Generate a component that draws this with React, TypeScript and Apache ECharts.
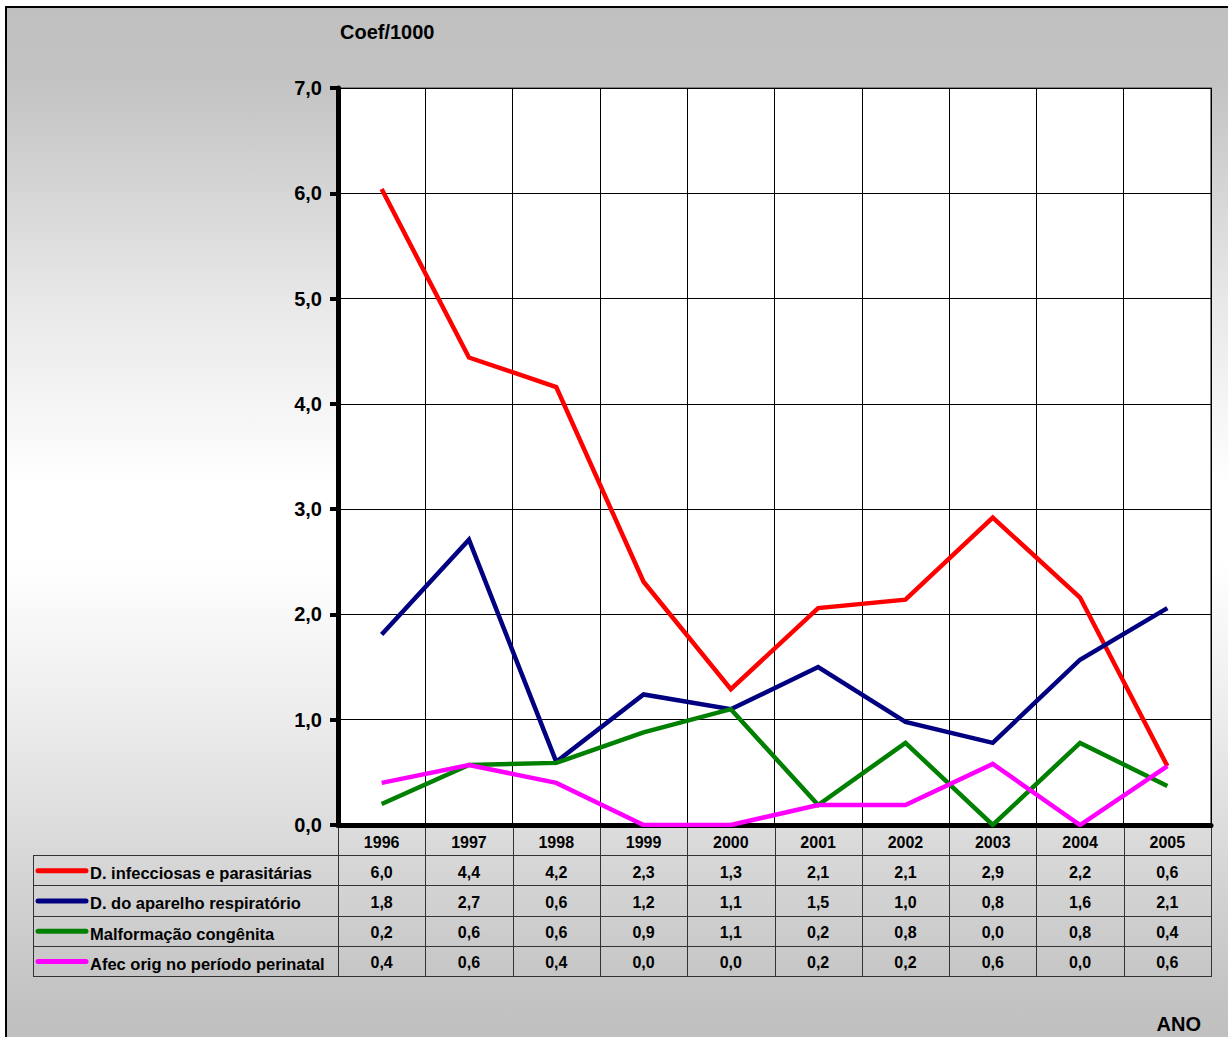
import React, { useEffect, useRef } from "react";
import * as echarts from "echarts";

// Categories (years) and series values (Coef/1000)
const years = ["1996", "1997", "1998", "1999", "2000", "2001", "2002", "2003", "2004", "2005"];

const seriesNames = [
  "D. infecciosas e parasitárias",
  "D. do aparelho respiratório",
  "Malformação congênita",
  "Afec orig no período perinatal",
];

const seriesColors = ["#ff0000", "#000080", "#008000", "#ff00ff"];

const infecciosas = [6.04, 4.44, 4.16, 2.31, 1.29, 2.06, 2.14, 2.92, 2.16, 0.56];
const respiratorio = [1.81, 2.71, 0.6, 1.24, 1.1, 1.5, 0.98, 0.78, 1.57, 2.06];
const malformacao = [0.2, 0.57, 0.59, 0.88, 1.1, 0.19, 0.78, 0.0, 0.78, 0.37];
const perinatal = [0.4, 0.57, 0.4, 0.0, 0.0, 0.19, 0.19, 0.58, 0.0, 0.56];

const seriesValues = [infecciosas, respiratorio, malformacao, perinatal];

const yTicks = { min: 0, max: 7, interval: 1 };

const fmt = (v: number) => v.toFixed(1).replace(".", ",");

const W = 1228;
const H = 1037;
const FONT = "'Liberation Sans', Arial, sans-serif";

// Plot box
const GRID_L = 338;
const GRID_R = 1211;
const GRID_T = 88;
const GRID_B = 825;

// Data table under the plot
const TABLE_L = 33;
const HEADER_B = 855;
const ROW_H = 30.25;

export default function App() {
  const ref = useRef<HTMLDivElement>(null);

  useEffect(() => {
    document.body.style.margin = "0";
    const chart = echarts.init(ref.current!, null, { renderer: "svg" });

    const colW = (GRID_R - GRID_L) / years.length;
    const tableB = HEADER_B + ROW_H * seriesNames.length;
    const lineStyle = { stroke: "#333", lineWidth: 1 };

    const tableEls: any[] = [];
    // vertical cell borders
    for (let i = 0; i <= years.length; i++) {
      const x = Math.round(GRID_L + i * colW) + 0.5;
      tableEls.push({
        type: "line",
        shape: { x1: x, y1: GRID_B, x2: x, y2: tableB },
        style: lineStyle,
      });
    }
    tableEls.push({
      type: "line",
      shape: { x1: TABLE_L + 0.5, y1: HEADER_B, x2: TABLE_L + 0.5, y2: tableB },
      style: lineStyle,
    });
    // horizontal row borders
    for (let r = 0; r <= seriesNames.length; r++) {
      const y = Math.round(HEADER_B + r * ROW_H) + 0.5;
      tableEls.push({
        type: "line",
        shape: { x1: TABLE_L, y1: y, x2: GRID_R + 1, y2: y },
        style: lineStyle,
      });
    }
    // legend keys, names and values
    seriesNames.forEach((name, r) => {
      const cy = HEADER_B + r * ROW_H + ROW_H / 2;
      tableEls.push({
        type: "line",
        shape: { x1: 38, y1: cy + 0.5, x2: 86, y2: cy + 0.5 },
        style: { stroke: seriesColors[r], lineWidth: 5, lineCap: "round" },
      });
      tableEls.push({
        type: "text",
        x: 90,
        y: cy + 3,
        style: {
          text: name,
          fill: "#000",
          font: `bold 16.5px ${FONT}`,
          textAlign: "left",
          textVerticalAlign: "middle",
        },
      });
      seriesValues[r].forEach((v, i) => {
        tableEls.push({
          type: "text",
          x: GRID_L + (i + 0.5) * colW,
          y: cy + 2,
          style: {
            text: fmt(v),
            fill: "#000",
            font: `bold 16px ${FONT}`,
            textAlign: "center",
            textVerticalAlign: "middle",
          },
        });
      });
    });

    chart.setOption({
      animation: false,
      textStyle: { fontFamily: FONT },
      graphic: [
        {
          type: "rect",
          z: -10,
          silent: true,
          shape: { x: 6, y: 7, width: W + 20, height: H + 20 },
          style: {
            fill: {
              type: "linear",
              x: 0,
              y: 0,
              x2: 0,
              y2: H,
              global: true,
              colorStops: [
                { offset: 0, color: "#c0c0c0" },
                { offset: 0.08, color: "#c3c3c3" },
                { offset: 0.29, color: "#e8e8e8" },
                { offset: 0.47, color: "#ffffff" },
                { offset: 0.54, color: "#ffffff" },
                { offset: 0.7, color: "#ebebeb" },
                { offset: 0.96, color: "#c3c3c3" },
                { offset: 1, color: "#c0c0c0" },
              ],
            },
            stroke: "#000",
            lineWidth: 2,
          },
        },
        {
          type: "text",
          x: 340,
          y: 32,
          style: {
            text: "Coef/1000",
            fill: "#000",
            font: `bold 20px ${FONT}`,
            textAlign: "left",
            textVerticalAlign: "middle",
          },
        },
        {
          type: "text",
          x: 1201,
          y: 1024,
          style: {
            text: "ANO",
            fill: "#000",
            font: `bold 20px ${FONT}`,
            textAlign: "right",
            textVerticalAlign: "middle",
          },
        },
        { type: "group", children: tableEls },
      ],
      grid: {
        left: GRID_L,
        top: GRID_T,
        width: GRID_R - GRID_L,
        height: GRID_B - GRID_T,
        show: true,
        backgroundColor: "#ffffff",
        borderColor: "#808080",
        borderWidth: 2,
      },
      xAxis: {
        type: "category",
        data: years,
        boundaryGap: true,
        axisLine: { lineStyle: { color: "#000", width: 5 } },
        axisTick: { show: false },
        axisLabel: {
          color: "#000",
          fontWeight: "bold",
          fontSize: 16,
          fontFamily: FONT,
          margin: 9,
        },
        splitLine: { show: true, lineStyle: { color: "#000", width: 1 } },
      },
      yAxis: {
        type: "value",
        min: yTicks.min,
        max: yTicks.max,
        interval: yTicks.interval,
        axisLine: { show: true, lineStyle: { color: "#000", width: 5 } },
        axisTick: { show: true, length: 8, lineStyle: { color: "#000", width: 4 } },
        axisLabel: {
          color: "#000",
          fontWeight: "bold",
          fontSize: 20,
          fontFamily: FONT,
          margin: 16,
          formatter: (v: number) => fmt(v),
        },
        splitLine: { show: true, lineStyle: { color: "#000", width: 1 } },
      },
      series: seriesNames.map((name, i) => ({
        name,
        type: "line",
        data: seriesValues[i],
        showSymbol: false,
        symbol: "none",
        lineStyle: { color: seriesColors[i], width: 4.5, join: "miter" },
        itemStyle: { color: seriesColors[i] },
        z: 3 + i,
      })),
    });

    return () => chart.dispose();
  }, []);

  return <div ref={ref} style={{ width: W, height: H }} />;
}
